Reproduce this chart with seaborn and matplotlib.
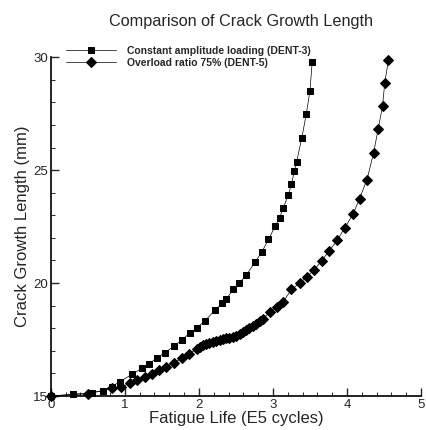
import numpy as np
import pandas as pd
import matplotlib
matplotlib.use("Agg")
import matplotlib.pyplot as plt
from matplotlib.ticker import MultipleLocator
import seaborn as sns

# DENT-3 : constant amplitude loading
cycles_cal = [0.0, 0.30, 0.55, 0.71, 0.82, 0.93, 1.10, 1.23, 1.32, 1.43, 1.54, 1.66, 1.77,
              1.88, 1.97, 2.08, 2.22, 2.31, 2.37, 2.46, 2.54, 2.64, 2.76, 2.85, 2.94,
              3.03, 3.09, 3.14, 3.21, 3.25, 3.29, 3.32, 3.39, 3.45, 3.50, 3.53]
crack_cal = [15.0, 15.08, 15.15, 15.23, 15.41, 15.63, 15.97, 16.23, 16.42, 16.67, 16.92, 17.20, 17.48,
             17.80, 18.01, 18.33, 18.80, 19.10, 19.28, 19.72, 19.99, 20.35, 20.94, 21.38, 21.93,
             22.52, 22.89, 23.33, 23.92, 24.38, 24.96, 25.37, 26.43, 27.48, 28.51, 29.80]

# DENT-5 : overload ratio 75%
cycles_ol = [0.0, 0.50, 0.82, 0.95, 1.07, 1.17, 1.27, 1.36, 1.46, 1.56, 1.66, 1.77, 1.86, 1.97,
             2.01, 2.05, 2.10, 2.14, 2.19, 2.23, 2.28, 2.32, 2.37, 2.41, 2.46, 2.50, 2.55, 2.59,
             2.64, 2.68, 2.73, 2.77, 2.82, 2.87, 2.96, 3.05, 3.14, 3.25, 3.36, 3.46, 3.56,
             3.66, 3.76, 3.87, 3.97, 4.08, 4.17, 4.27, 4.36, 4.42, 4.48, 4.51, 4.56]
crack_ol = [15.0, 15.10, 15.34, 15.41, 15.56, 15.71, 15.85, 15.96, 16.15, 16.30, 16.47, 16.67, 16.86, 17.07,
            17.18, 17.24, 17.30, 17.35, 17.40, 17.44, 17.48, 17.51, 17.55, 17.58, 17.62, 17.67, 17.74, 17.82,
            17.92, 18.01, 18.10, 18.21, 18.33, 18.43, 18.73, 18.95, 19.17, 19.72, 19.99, 20.28, 20.60,
            20.99, 21.43, 21.90, 22.45, 23.04, 23.74, 24.58, 25.77, 26.80, 27.83, 28.86, 29.87]

labels = ["Constant amplitude loading (DENT-3)", "Overload ratio 75% (DENT-5)"]

sns.set_style("ticks")
plt.rcParams["font.family"] = ["Liberation Sans", "DejaVu Sans"]

fig = plt.figure(figsize=(4.27, 4.30), dpi=100)
ax = fig.add_axes([0.119, 0.079, 0.867, 0.788])

df1 = pd.DataFrame({"x": cycles_cal, "y": crack_cal})
df2 = pd.DataFrame({"x": cycles_ol, "y": crack_ol})

sns.lineplot(data=df1, x="x", y="y", ax=ax, sort=False, estimator=None, color="black",
             linewidth=0.5, marker="s", markersize=3.8, markeredgecolor="black",
             label=labels[0], clip_on=False)
sns.lineplot(data=df2, x="x", y="y", ax=ax, sort=False, estimator=None, color="black",
             linewidth=0.5, marker="D", markersize=4.6, markeredgecolor="black",
             label=labels[1], clip_on=False)

ax.set_xlim(0, 5)
ax.set_ylim(15, 30)
ax.xaxis.set_major_locator(MultipleLocator(1))
ax.xaxis.set_minor_locator(MultipleLocator(0.2))
ax.yaxis.set_major_locator(MultipleLocator(5))
ax.yaxis.set_minor_locator(MultipleLocator(1))
ax.tick_params(which="major", direction="in", length=6, width=1.0, labelsize=9.5, pad=2)
ax.tick_params(which="minor", direction="in", length=3, width=0.7)
sns.despine(ax=ax)
for s in ["left", "bottom"]:
    ax.spines[s].set_linewidth(1.2)
    ax.spines[s].set_color("black")

ax.set_xlabel("Fatigue Life (E5 cycles)", fontsize=12, labelpad=0)
ax.set_ylabel("Crack Growth Length (mm)", fontsize=12, labelpad=2)
fig.suptitle("Comparison of Crack Growth Length", fontsize=11.7, x=0.565, y=0.968)

leg = ax.legend(loc="upper left", bbox_to_anchor=(0.03, 1.045), frameon=False,
                prop={"size": 7.5, "weight": "bold"}, handlelength=4.8,
                labelspacing=0.15, handletextpad=1.0, borderaxespad=0)

fig.savefig("out.png", dpi=100)
